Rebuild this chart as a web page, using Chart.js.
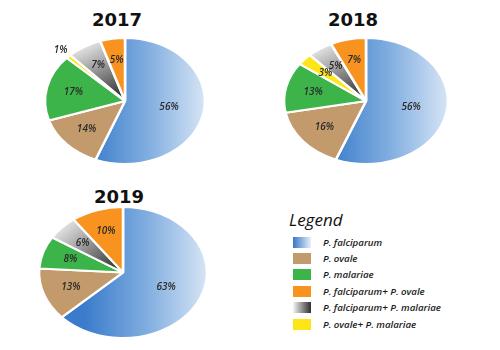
<!DOCTYPE html>
<html>
<head>
<meta charset="utf-8">
<script src="https://cdn.jsdelivr.net/npm/chart.js@4"></script>
<style>
  html, body { margin: 0; padding: 0; background: #fff; }
  #stage { position: relative; width: 500px; height: 350px; overflow: hidden; }
  .year { position: absolute; font: bold 18px 'DejaVu Sans', sans-serif; line-height: 1; color: #111; transform: translateX(-50%); white-space: nowrap; }
  canvas { position: absolute; }
  #legend-title { position: absolute; left: 289px; top: 211px; font: italic 17px 'Open Sans', sans-serif; line-height: 1; color: #111; }
  #legend { position: absolute; left: 293px; top: 234px; }
  .row { display: flex; align-items: center; height: 16.4px; }
  .swatch { width: 18px; height: 11px; margin-right: 12px; }
  .row span { font: italic 600 9.7px 'Open Sans', sans-serif; color: #1a1a1a; white-space: nowrap; }
</style>
</head>
<body>
<div id="stage">
  <div class="year" id="y0" style="left:117px; top:11px;"></div>
  <div class="year" id="y1" style="left:353px; top:11px;"></div>
  <div class="year" id="y2" style="left:119px; top:188px;"></div>
  <canvas id="pie0" width="180" height="128" style="left:35px; top:37px;"></canvas>
  <canvas id="pie1" width="180" height="128" style="left:276px; top:37px;"></canvas>
  <canvas id="pie2" width="180" height="133" style="left:33px; top:206px;"></canvas>
  <div id="legend-title">Legend</div>
  <div id="legend"></div>
</div>
<script>
// Data (slice order, clockwise from 12 o'clock)
const categories = ['P. falciparum', 'P. ovale', 'P. malariae', 'P. ovale+ P. malariae', 'P. falciparum+ P. malariae', 'P. falciparum+ P. ovale'];
const years = ['2017', '2018', '2019'];
const values2017 = [56, 14, 17, 1, 7, 5];
const values2018 = [56, 16, 13, 3, 5, 7];
const values2019 = [63, 13, 8, 0, 6, 10];
const legendOrder = [0, 1, 2, 5, 4, 3];

// Colours
const FLAT_COLORS = ['#5b95d6', '#c39a6b', '#3cb44a', '#fde517', '#8c8c8c', '#f7931e'];

// horizontal size of each ellipse, px
const STRETCH_RX = [80, 82, 84];

function sliceFill(c) {
  const i = c.dataIndex;
  const chart = c.chart;
  const area = chart.chartArea;
  if (!area || i === undefined) return FLAT_COLORS[i] || '#ccc';
  const cx = (area.left + area.right) / 2;
  const cy = (area.top + area.bottom) / 2;
  const r = Math.min(area.width, area.height) / 2;
  const g = chart.ctx;
  if (i === 0) {
    const grad = g.createLinearGradient(cx - r * 0.45, 0, cx + r, 0);
    grad.addColorStop(0, '#3a7ccb');
    grad.addColorStop(0.5, '#80addf');
    grad.addColorStop(1, '#d8e6f6');
    return grad;
  }
  if (i === 4) {
    const data = c.dataset.data;
    const total = data.reduce((a, b) => a + b, 0);
    let before = 0;
    for (let k = 0; k < i; k++) before += data[k];
    const mid = (before + data[i] / 2) / total * Math.PI * 2 - Math.PI / 2;
    const grad = g.createLinearGradient(cx + Math.cos(mid) * r, cy + Math.sin(mid) * r, cx, cy);
    grad.addColorStop(0, '#e4e4e4');
    grad.addColorStop(0.35, '#a2a2a2');
    grad.addColorStop(1, '#202020');
    return grad;
  }
  return FLAT_COLORS[i];
}

// squash the round pie into an ellipse and write the % labels
const ellipsePlugin = {
  id: 'ellipse',
  beforeDatasetsDraw(chart, args, opts) {
    const { ctx, chartArea: a } = chart;
    const cx = (a.left + a.right) / 2;
    const cy = (a.top + a.bottom) / 2;
    ctx.save();
    ctx.translate(cx, cy);
    ctx.scale(opts.stretch, 1);
    ctx.translate(-cx, -cy);
  },
  afterDatasetsDraw(chart, args, opts) {
    const ctx = chart.ctx;
    ctx.restore();
    const data = chart.data.datasets[0].data;
    const meta = chart.getDatasetMeta(0);
    ctx.save();
    ctx.font = 'italic 600 10px "Open Sans", sans-serif';
    ctx.fillStyle = '#2b2b2b';
    ctx.textAlign = 'center';
    ctx.textBaseline = 'middle';
    meta.data.forEach((arc, i) => {
      const v = data[i];
      if (!v) return;
      const p = arc.getProps(['x', 'y', 'startAngle', 'endAngle', 'outerRadius'], true);
      const mid = (p.startAngle + p.endAngle) / 2;
      const f = v < 2 ? 1.14 : (v > 50 ? 0.56 : 0.66);
      const x = p.x + Math.cos(mid) * p.outerRadius * f * opts.stretch;
      const y = p.y + Math.sin(mid) * p.outerRadius * f;
      ctx.fillText(v + '%', x, y);
    });
    ctx.restore();
  }
};

function makePie(idx, values) {
  const canvas = document.getElementById('pie' + idx);
  const radius = (canvas.height - 2) / 2;
  document.getElementById('y' + idx).textContent = years[idx];
  return new Chart(canvas, {
    type: 'pie',
    data: {
      labels: categories,
      datasets: [{
        data: values,
        backgroundColor: sliceFill,
        borderColor: '#ffffff',
        borderWidth: 2,
      }],
    },
    options: {
      responsive: false,
      animation: false,
      events: [],
      layout: { padding: 0 },
      plugins: {
        legend: { display: false },
        tooltip: { enabled: false },
        ellipse: { stretch: STRETCH_RX[idx] / radius },
      },
    },
    plugins: [ellipsePlugin],
  });
}

makePie(0, values2017);
makePie(1, values2018);
makePie(2, values2019);

// legend
const SWATCHES = [
  'linear-gradient(to right, #3777c6, #e8f0fa)',
  '#c39a6b',
  '#3cb44a',
  '#fde517',
  'linear-gradient(to right, #f4f4f4, #2e2e2e)',
  '#f7931e',
];
const legendEl = document.getElementById('legend');
legendOrder.forEach((i) => {
  const row = document.createElement('div');
  row.className = 'row';
  row.innerHTML = `<div class="swatch" style="background:${SWATCHES[i]}"></div><span>${categories[i]}</span>`;
  legendEl.appendChild(row);
});
</script>
</body>
</html>
